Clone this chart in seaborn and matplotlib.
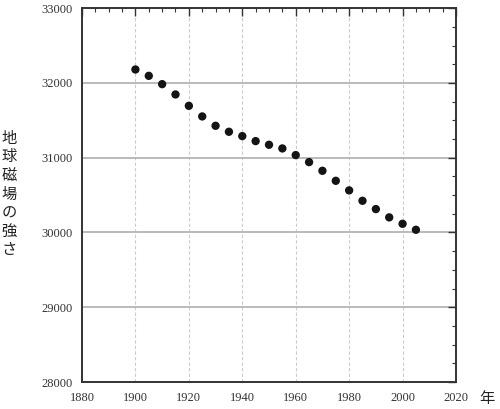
import matplotlib
matplotlib.use("Agg")
import matplotlib.pyplot as plt
import seaborn as sns
import pandas as pd
from matplotlib.ticker import MultipleLocator

years = [1900, 1905, 1910, 1915, 1920, 1925, 1930, 1935, 1940, 1945, 1950, 1955,
         1960, 1965, 1970, 1975, 1980, 1985, 1990, 1995, 2000, 2005]
strength = [32180, 32095, 31984, 31846, 31694, 31552, 31427, 31347, 31289, 31222, 31173, 31124,
            31035, 30941, 30825, 30691, 30563, 30424, 30313, 30202, 30116, 30036]
x_ticks = [1880, 1900, 1920, 1940, 1960, 1980, 2000, 2020]
y_ticks = [28000, 29000, 30000, 31000, 32000, 33000]
y_label = "地球磁場の強さ"
x_label = "年"

sns.set_style("white")
plt.rcParams['font.family'] = ['Liberation Serif', 'DejaVu Sans']

df = pd.DataFrame({"year": years, "strength": strength})

fig = plt.figure(figsize=(5.0, 4.09), dpi=100)
ax = fig.add_axes([0.164, 0.066, 0.748, 0.914])

for xv in x_ticks[1:-1]:
    ax.axvline(xv, color="#cccccc", lw=0.8, ls=(0, (3, 2)), zorder=0)
for yv in y_ticks[1:-1]:
    ax.axhline(yv, color="#b4b4b4", lw=1.3, zorder=0)

sns.scatterplot(data=df, x="year", y="strength", ax=ax, color="#141414", s=36,
                edgecolor="none", zorder=3, legend=False)

ax.set_xlim(1880, 2020)
ax.set_ylim(28000, 33000)
ax.set_xticks(x_ticks)
ax.set_yticks(y_ticks)
ax.xaxis.set_minor_locator(MultipleLocator(5))
ax.yaxis.set_minor_locator(MultipleLocator(250))
ax.tick_params(which="both", direction="in", top=True, right=True, color="#333333",
               labelsize=9, labelcolor="#333333")
ax.tick_params(which="major", length=6, width=1.0, pad=7)
ax.tick_params(which="minor", length=3, width=0.8)
ax.set_xlabel("")
ax.set_ylabel("")
for sp in ax.spines.values():
    sp.set_color("#333333")
    sp.set_linewidth(1.4)

fig.text(9 / 500, 1 - 194 / 409, "\n".join(y_label), ha="center", va="center",
         fontsize=11, linespacing=1.12, family=["Noto Sans CJK JP", "DejaVu Sans"], color="#222222")
fig.text(487 / 500, 1 - 398 / 409, x_label, ha="center", va="center",
         fontsize=11, family=["Noto Sans CJK JP", "DejaVu Sans"], color="#222222")

fig.savefig("out.png", dpi=100)
